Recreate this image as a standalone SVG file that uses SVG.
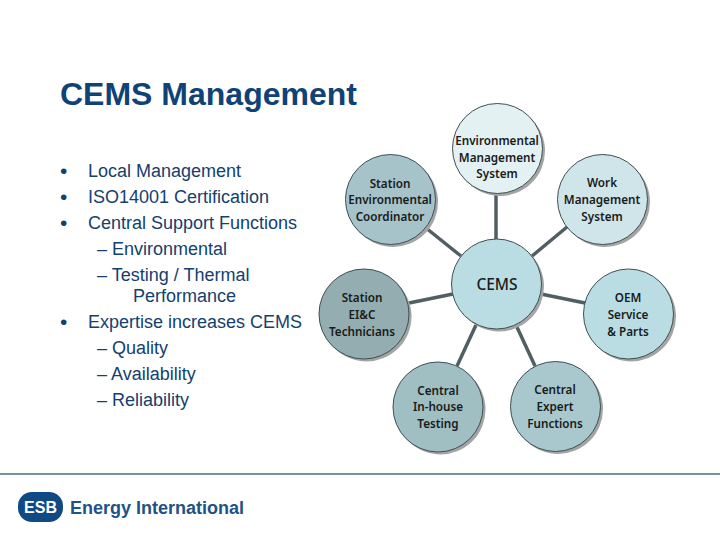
<svg xmlns="http://www.w3.org/2000/svg" width="720" height="540" viewBox="0 0 720 540">
<style>
.t{font-family:"Liberation Sans",Arial,sans-serif;fill:#0f4377}
.title{font-size:32px;font-weight:bold}
.b{font-size:18px;fill:#14406e}
.bu{font-size:21px;fill:#14406e}
.n{font-family:"Noto Sans","Open Sans",sans-serif;font-size:11.700px;font-weight:600;fill:#1a1a1a;text-anchor:middle}
.c{stroke:#3f4f52;stroke-width:1}
.s{fill:#a4a4a4}
.l{stroke:#4f5f62;stroke-width:3.500;fill:none}
</style>
<rect width="720" height="540" fill="#ffffff"/>
<text class="t title" x="60" y="105">CEMS Management</text>
<g id="bullets">
<text class="t bu" x="60" y="178">•</text><text class="t b" x="88" y="177">Local Management</text>
<text class="t bu" x="60" y="204">•</text><text class="t b" x="88" y="203">ISO14001 Certification</text>
<text class="t bu" x="60" y="230">•</text><text class="t b" x="88" y="229">Central Support Functions</text>
<text class="t b" x="97" y="255">– Environmental</text>
<text class="t b" x="97" y="281">– Testing / Thermal</text>
<text class="t b" x="133" y="302">Performance</text>
<text class="t bu" x="60" y="329">•</text><text class="t b" x="88" y="328">Expertise increases CEMS</text>
<text class="t b" x="97" y="354">– Quality</text>
<text class="t b" x="97" y="380">– Availability</text>
<text class="t b" x="97" y="406">– Reliability</text>
</g>
<g id="connectors">
<line class="l" x1="496" y1="190" x2="496" y2="240"/>
<line class="l" x1="426" y1="228" x2="461" y2="256"/>
<line class="l" x1="567" y1="227" x2="532" y2="256"/>
<line class="l" x1="409" y1="303" x2="453" y2="294"/>
<line class="l" x1="585" y1="303" x2="541" y2="294"/>
<line class="l" x1="457" y1="366" x2="476" y2="325"/>
<line class="l" x1="535" y1="366" x2="516" y2="325"/>
</g>
<g id="node-env-mgmt"><circle class="s" cx="500" cy="151" r="45"/><circle class="c" cx="497.500" cy="148.500" r="45" fill="#e3f1f3"/>
<text class="n" x="497" y="145">Environmental</text><text class="n" x="497" y="162">Management</text><text class="n" x="497" y="178">System</text></g>
<g id="node-station-env"><circle class="s" cx="393" cy="202" r="45"/><circle class="c" cx="390.500" cy="199.500" r="45" fill="#a5c3c9"/>
<text class="n" x="390" y="188">Station</text><text class="n" x="390" y="204">Environmental</text><text class="n" x="390" y="221">Coordinator</text></g>
<g id="node-work"><circle class="s" cx="605" cy="202" r="45"/><circle class="c" cx="602.500" cy="199.500" r="45" fill="#cfe5ea"/>
<text class="n" x="602" y="187">Work</text><text class="n" x="602" y="204">Management</text><text class="n" x="602" y="221">System</text></g>
<g id="node-cems"><circle class="s" cx="499" cy="286.500" r="45"/><circle class="c" cx="496.500" cy="284" r="45" fill="#b9dde3"/>
<text class="n" x="497" y="290" style="font-size:15.500px;font-weight:500">CEMS</text></g>
<g id="node-ei-c"><circle class="s" cx="366.500" cy="316.500" r="45"/><circle class="c" cx="364" cy="314" r="45" fill="#93adb0"/>
<text class="n" x="362" y="302">Station</text><text class="n" x="362" y="319">EI&amp;C</text><text class="n" x="362" y="336">Technicians</text></g>
<g id="node-oem"><circle class="s" cx="631" cy="316.500" r="45"/><circle class="c" cx="628.500" cy="314" r="45" fill="#b9dde3"/>
<text class="n" x="628" y="302">OEM</text><text class="n" x="628" y="319">Service</text><text class="n" x="628" y="336">&amp; Parts</text></g>
<g id="node-inhouse"><circle class="s" cx="440.500" cy="409.500" r="45"/><circle class="c" cx="438" cy="407" r="45" fill="#a0bfc2"/>
<text class="n" x="438" y="395">Central</text><text class="n" x="438" y="411">In-house</text><text class="n" x="438" y="428">Testing</text></g>
<g id="node-expert"><circle class="s" cx="558" cy="409" r="45"/><circle class="c" cx="555.500" cy="406.500" r="45" fill="#a8c8ce"/>
<text class="n" x="555" y="394">Central</text><text class="n" x="555" y="411">Expert</text><text class="n" x="555" y="428">Functions</text></g>
<g id="footer">
<rect x="0" y="473" width="720" height="2" fill="#7c8f9c"/>
<rect x="18" y="492" width="45" height="30" rx="14" fill="#0f4a85"/>
<text x="40.500" y="512.500" text-anchor="middle" style="font-family:'Liberation Sans',sans-serif;font-size:16px;font-weight:bold;fill:#fff">ESB</text>
<text x="70" y="514" style="font-family:'Liberation Sans',sans-serif;font-size:18px;font-weight:bold;fill:#1f5288">Energy International</text>
</g>
</svg>
